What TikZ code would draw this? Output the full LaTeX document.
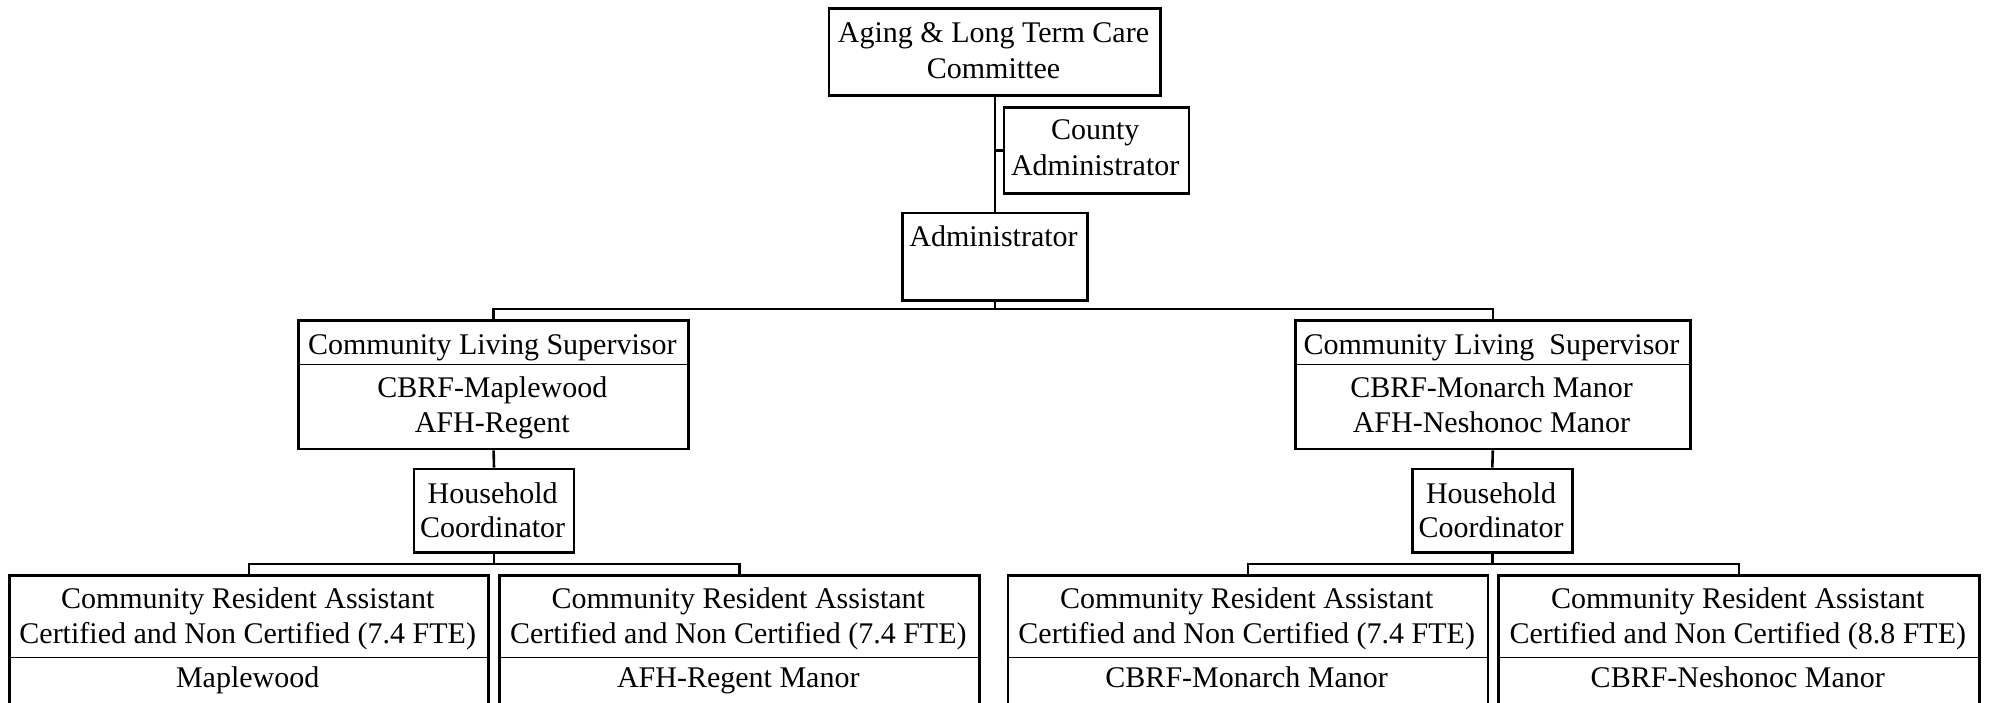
\documentclass[tikz,border=0pt]{standalone}
\usepackage{fontspec}
\setmainfont{Liberation Serif}
\begin{document}
\begin{tikzpicture}[x=1pt,y=-1pt,
  box/.style={draw=black, line width=2.6pt, inner sep=0pt, anchor=north west, fill=none},
  conn/.style={draw=black, line width=2.6pt},
  divline/.style={draw=black, line width=1.2pt},
  txt/.style={anchor=base, inner sep=0pt, font=\fontsize{30}{34}\selectfont}]
\useasboundingbox (0,0) rectangle (1989,702);
\clip (0,0) rectangle (1989,702);
% boxes
\node[box, minimum width=331.6pt, minimum height=86.7pt] (top) at (827.7,7.3) {};
\node[box, minimum width=185pt, minimum height=86.3pt] (cty) at (1002.7,106) {};
\node[box, minimum width=185pt, minimum height=87.3pt] (adm) at (901,211.7) {};
\node[box, minimum width=390pt, minimum height=128.7pt] (clsL) at (297.3,319) {};
\node[box, minimum width=395pt, minimum height=128.7pt] (clsR) at (1294,319) {};
\node[box, minimum width=160pt, minimum height=83.3pt] (hhL) at (412.7,467.7) {};
\node[box, minimum width=160pt, minimum height=83.3pt] (hhR) at (1411,467.7) {};
\node[box, minimum width=479.3pt, minimum height=160pt] (c1) at (8,574.3) {};
\node[box, minimum width=480pt, minimum height=160pt] (c2) at (498.3,574.3) {};
\node[box, minimum width=480pt, minimum height=160pt] (c3) at (1006.7,574.3) {};
\node[box, minimum width=481pt, minimum height=160pt] (c4) at (1497.3,574.3) {};
% dividers
\draw[divline] (clsL.west |- 0,364.5) -- (clsL.east |- 0,364.5);
\draw[divline] (clsR.west |- 0,364.5) -- (clsR.east |- 0,364.5);
\draw[divline] (c1.west |- 0,657.3) -- (c1.east |- 0,657.3);
\draw[divline] (c2.west |- 0,657.3) -- (c2.east |- 0,657.3);
\draw[divline] (c3.west |- 0,657.3) -- (c3.east |- 0,657.3);
\draw[divline] (c4.west |- 0,657.3) -- (c4.east |- 0,657.3);
% connectors
\coordinate (ctyj) at (adm.north |- cty.west);
\coordinate (b1) at (adm.south |- 0,309);
\coordinate (b2) at (hhL.south |- 0,564);
\coordinate (b3) at (hhR.south |- 0,564);
\draw[conn] (adm.north |- top.south) -- (adm.north);
\draw[conn] (ctyj) -- (cty.west);
\draw[conn] (adm.south) -- (b1);
\draw[conn] (clsL.north) |- (b1) -| (clsR.north);
\draw[conn] (clsL.south) -- (hhL.north);
\draw[conn] (clsR.south) -- (hhR.north);
\draw[conn] (hhL.south) -- (b2);
\draw[conn] (hhR.south) -- (b3);
\draw[conn] (c1.north) |- (b2) -| (c2.north);
\draw[conn] (c3.north) |- (b3) -| (c4.north);
% texts
\node[txt] (t1a) at (993.5,42.7) {Aging \& Long Term Care};
\node[txt] (t1b) at (993.5,78.3) {Committee};
\node[txt] (t2a) at (1095.2,139.5) {County};
\node[txt] (t2b) at (1095.2,175.5) {Administrator};
\node[txt] (t3a) at (993.5,246.7) {Administrator};
\node[txt] (t4a) at (492.3,354) {Community Living Supervisor};
\node[txt] (t4b) at (492.3,397) {CBRF-Maplewood};
\node[txt] (t4c) at (492.3,432.3) {AFH-Regent};
\node[txt] (t5a) at (1491.5,354) {Community Living\ \ Supervisor};
\node[txt] (t5b) at (1491.5,397) {CBRF-Monarch Manor};
\node[txt] (t5c) at (1491.5,432.3) {AFH-Neshonoc Manor};
\node[txt] (t6a) at (492.7,503) {Household};
\node[txt] (t6b) at (492.7,537) {Coordinator};
\node[txt] (t7a) at (1491,503) {Household};
\node[txt] (t7b) at (1491,537) {Coordinator};
\node[txt] (t8a) at (247.7,608.5) {Community Resident Assistant};
\node[txt] (t8b) at (247.7,643) {Certified and Non Certified (7.4 FTE)};
\node[txt] (t8c) at (247.7,687) {Maplewood};
\node[txt] (t9a) at (738.3,608.5) {Community Resident Assistant};
\node[txt] (t9b) at (738.3,643) {Certified and Non Certified (7.4 FTE)};
\node[txt] (t9c) at (738.3,687) {AFH-Regent Manor};
\node[txt] (t10a) at (1246.7,608.5) {Community Resident Assistant};
\node[txt] (t10b) at (1246.7,643) {Certified and Non Certified (7.4 FTE)};
\node[txt] (t10c) at (1246.7,687) {CBRF-Monarch Manor};
\node[txt] (t11a) at (1737.8,608.5) {Community Resident Assistant};
\node[txt] (t11b) at (1737.8,643) {Certified and Non Certified (8.8 FTE)};
\node[txt] (t11c) at (1737.8,687) {CBRF-Neshonoc Manor};
\end{tikzpicture}
\end{document}
